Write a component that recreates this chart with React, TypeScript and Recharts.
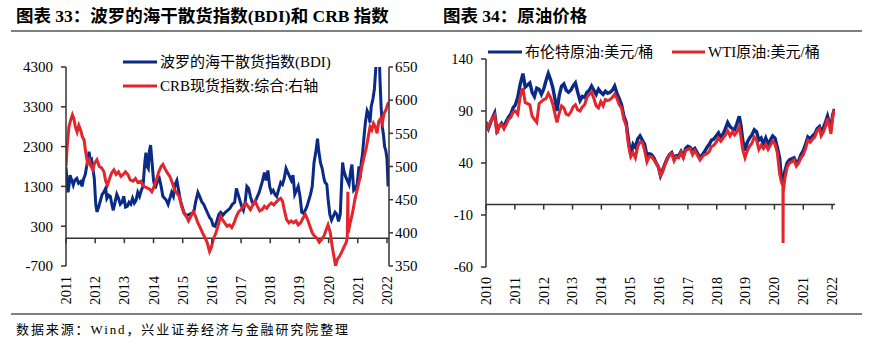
import React from 'react';
import { LineChart, Line, XAxis, YAxis, ReferenceLine } from 'recharts';

// ---------- Left chart: BDI & CRB ----------
const bdiT = [
  2011.00, 2011.03, 2011.07, 2011.10, 2011.14, 2011.20, 2011.25, 2011.30, 2011.37, 2011.43,
  2011.50, 2011.55, 2011.60, 2011.66, 2011.72, 2011.79, 2011.84, 2011.88, 2011.93, 2011.97,
  2012.02, 2012.06, 2012.12, 2012.18, 2012.24, 2012.30, 2012.36, 2012.40, 2012.46, 2012.52,
  2012.58, 2012.62, 2012.68, 2012.74, 2012.80, 2012.86, 2012.92, 2012.98, 2013.04, 2013.10,
  2013.16, 2013.22, 2013.28, 2013.34, 2013.40, 2013.46, 2013.52, 2013.58, 2013.64, 2013.70,
  2013.74, 2013.78, 2013.82, 2013.86, 2013.90, 2013.95, 2014.00, 2014.06, 2014.12, 2014.20,
  2014.26, 2014.32, 2014.38, 2014.44, 2014.50, 2014.56, 2014.62, 2014.68, 2014.74, 2014.80,
  2014.86, 2014.92, 2014.98, 2015.04, 2015.10, 2015.16, 2015.22, 2015.30, 2015.38, 2015.44,
  2015.52, 2015.58, 2015.66, 2015.72, 2015.78, 2015.84, 2015.92, 2015.98, 2016.04, 2016.10,
  2016.16, 2016.24, 2016.30, 2016.38, 2016.46, 2016.54, 2016.62, 2016.70, 2016.78, 2016.84,
  2016.90, 2016.96, 2017.02, 2017.08, 2017.14, 2017.20, 2017.26, 2017.32, 2017.38, 2017.44,
  2017.50, 2017.56, 2017.62, 2017.68, 2017.74, 2017.80, 2017.86, 2017.92, 2017.98, 2018.04,
  2018.10, 2018.16, 2018.22, 2018.30, 2018.36, 2018.42, 2018.48, 2018.54, 2018.60, 2018.66,
  2018.72, 2018.78, 2018.84, 2018.90, 2018.96, 2019.02, 2019.08, 2019.14, 2019.20, 2019.26,
  2019.32, 2019.38, 2019.44, 2019.50, 2019.56, 2019.62, 2019.66, 2019.72, 2019.78, 2019.84,
  2019.88, 2019.94, 2019.98, 2020.04, 2020.10, 2020.16, 2020.22, 2020.28, 2020.34, 2020.40,
  2020.44, 2020.48, 2020.52, 2020.58, 2020.64, 2020.70, 2020.76, 2020.80, 2020.86, 2020.92,
  2020.98, 2021.04, 2021.08, 2021.12, 2021.16, 2021.22, 2021.26, 2021.32, 2021.38, 2021.42,
  2021.46, 2021.52, 2021.57, 2021.62, 2021.66, 2021.72, 2021.76, 2021.80, 2021.84, 2021.88,
  2021.92, 2021.96, 2022.00, 2022.04,
];
const bdiV = [
  1780, 1500, 1150, 1300, 1580, 1450, 1330, 1450, 1500, 1380,
  1420, 1300, 1480, 1600, 1850, 2170, 1900, 1950, 1700, 1500,
  850, 660, 780, 950, 1100, 1160, 1250, 1000, 1080, 1050,
  820, 700, 900, 1100, 1000, 850, 900, 1050, 780, 800,
  900, 850, 1000, 880, 950, 1150, 1050, 1200, 1300, 1900,
  2150, 1800, 1750, 2200, 2340, 1900, 1450, 1250, 1400, 1500,
  1300, 1050, 1000, 950, 850, 1000, 1150, 1050, 1350, 1450,
  1200, 950, 800, 650, 580, 570, 600, 620, 650, 900,
  1150, 1050, 900, 850, 750, 650, 520, 470, 320, 300,
  400, 600, 650, 580, 650, 700, 750, 850, 900, 1250,
  1100, 950, 800, 700, 900, 1300, 1250, 1050, 900, 870,
  950, 1050, 1150, 1300, 1450, 1650, 1450, 1700, 1300, 1150,
  1200, 1100, 1050, 1250, 1400, 1350, 1500, 1750, 1650, 1550,
  1450, 1580, 1100, 1200, 1300, 1050, 650, 620, 700, 800,
  950, 1100, 1300, 1900, 2150, 2500, 2200, 1900, 1750, 1500,
  1400, 1350, 1000, 600, 450, 550, 650, 600, 420, 600,
  1300, 1900, 1700, 1550, 1450, 1350, 1700, 1850, 1200, 1250,
  1350, 1800, 1500, 1900, 2100, 2600, 2900, 3200, 3100, 2900,
  3300, 3500, 3750, 4300, 4700, 5200, 4000, 3300, 2800, 2600,
  2300, 2200, 2000, 1300,
];
const crbT = [
  2011.00, 2011.04, 2011.10, 2011.16, 2011.22, 2011.27, 2011.32, 2011.38, 2011.44, 2011.50,
  2011.56, 2011.62, 2011.68, 2011.74, 2011.80, 2011.86, 2011.92, 2011.98, 2012.06, 2012.14,
  2012.22, 2012.30, 2012.36, 2012.42, 2012.48, 2012.56, 2012.64, 2012.72, 2012.80, 2012.88,
  2012.96, 2013.04, 2013.12, 2013.20, 2013.30, 2013.38, 2013.46, 2013.56, 2013.66, 2013.76,
  2013.86, 2013.94, 2014.02, 2014.10, 2014.18, 2014.26, 2014.32, 2014.40, 2014.48, 2014.56,
  2014.64, 2014.72, 2014.80, 2014.88, 2014.96, 2015.04, 2015.12, 2015.20, 2015.28, 2015.36,
  2015.44, 2015.52, 2015.60, 2015.68, 2015.76, 2015.84, 2015.92, 2015.98, 2016.06, 2016.14,
  2016.22, 2016.30, 2016.36, 2016.44, 2016.52, 2016.60, 2016.68, 2016.76, 2016.84, 2016.92,
  2017.00, 2017.08, 2017.16, 2017.24, 2017.32, 2017.40, 2017.48, 2017.56, 2017.64, 2017.72,
  2017.80, 2017.88, 2017.96, 2018.04, 2018.12, 2018.20, 2018.28, 2018.36, 2018.42, 2018.48,
  2018.56, 2018.64, 2018.72, 2018.80, 2018.88, 2018.96, 2019.04, 2019.12, 2019.20, 2019.28,
  2019.36, 2019.44, 2019.52, 2019.60, 2019.68, 2019.76, 2019.84, 2019.92, 2019.98, 2020.06,
  2020.12, 2020.18, 2020.24, 2020.30, 2020.38, 2020.46, 2020.54, 2020.60, 2020.64, 2020.66,
  2020.67, 2020.74, 2020.82, 2020.90, 2020.98, 2021.06, 2021.14, 2021.22, 2021.30, 2021.36,
  2021.42, 2021.48, 2021.54, 2021.60, 2021.66, 2021.72, 2021.78, 2021.84, 2021.90, 2021.96,
  2022.02, 2022.06,
];
const crbV = [
  500, 530, 560, 570, 578, 572, 560, 552, 562, 555,
  545, 540, 520, 505, 510, 500, 495, 505, 510, 500,
  498, 492, 478, 472, 480, 490, 495, 488, 492, 485,
  488, 492, 488, 480, 478, 482, 476, 478, 470, 468,
  466, 462, 470, 480, 492, 500, 503, 496, 490, 485,
  476, 465, 460, 455, 440, 430, 425, 418, 425, 432,
  425, 415, 408, 400, 393, 385, 372, 378, 392, 400,
  412, 425, 420, 415, 410, 412, 408, 415, 425, 432,
  435, 440, 445, 440, 435, 442, 448, 440, 433, 435,
  440, 437, 442, 445, 442, 446, 450, 452, 448, 435,
  420, 415, 418, 415, 418, 412, 415, 422, 428, 420,
  410, 400, 395, 392, 386, 390, 395, 405, 412, 400,
  380, 365, 350, 360, 365, 372, 380, 385, 393, 462,
  400, 415, 430, 450, 465, 480, 500, 515, 530, 545,
  560, 555, 565, 560, 550, 568, 572, 565, 580, 585,
  593, 597,
];
const leftYears = [2011, 2012, 2013, 2014, 2015, 2016, 2017, 2018, 2019, 2020, 2021, 2022];
const bdiTicks = [-700, 300, 1300, 2300, 3300, 4300];
const crbTicks = [350, 400, 450, 500, 550, 600, 650];

// ---------- Right chart: crude oil ----------
const oilT = [
  2010.00, 2010.08, 2010.16, 2010.25, 2010.30, 2010.38, 2010.46, 2010.54, 2010.62, 2010.70,
  2010.78, 2010.86, 2010.94, 2011.02, 2011.10, 2011.18, 2011.28, 2011.36, 2011.44, 2011.52,
  2011.60, 2011.68, 2011.76, 2011.84, 2011.92, 2012.00, 2012.08, 2012.16, 2012.24, 2012.32,
  2012.40, 2012.46, 2012.54, 2012.62, 2012.70, 2012.78, 2012.86, 2012.94, 2013.02, 2013.10,
  2013.18, 2013.26, 2013.34, 2013.42, 2013.50, 2013.58, 2013.66, 2013.74, 2013.82, 2013.90,
  2013.98, 2014.06, 2014.14, 2014.22, 2014.30, 2014.38, 2014.46, 2014.54, 2014.62, 2014.70,
  2014.78, 2014.86, 2014.94, 2015.02, 2015.10, 2015.18, 2015.26, 2015.34, 2015.42, 2015.50,
  2015.58, 2015.66, 2015.74, 2015.82, 2015.90, 2015.98, 2016.05, 2016.12, 2016.20, 2016.28,
  2016.36, 2016.44, 2016.52, 2016.60, 2016.68, 2016.76, 2016.84, 2016.92, 2017.00, 2017.08,
  2017.16, 2017.24, 2017.32, 2017.42, 2017.50, 2017.58, 2017.66, 2017.74, 2017.82, 2017.90,
  2017.98, 2018.06, 2018.14, 2018.22, 2018.30, 2018.38, 2018.46, 2018.54, 2018.62, 2018.70,
  2018.78, 2018.84, 2018.90, 2018.98, 2019.06, 2019.14, 2019.22, 2019.30, 2019.38, 2019.46,
  2019.54, 2019.62, 2019.70, 2019.78, 2019.86, 2019.94, 2020.02, 2020.10, 2020.18, 2020.24,
  2020.295, 2020.30, 2020.305, 2020.36, 2020.44, 2020.52, 2020.60, 2020.68, 2020.76, 2020.84,
  2020.92, 2021.00, 2021.08, 2021.16, 2021.24, 2021.32, 2021.40, 2021.48, 2021.56, 2021.62,
  2021.70, 2021.78, 2021.84, 2021.90, 2021.96, 2022.02, 2022.08,
];
const brentV = [
  78, 73, 79, 85, 88, 71, 75, 78, 74, 80,
  84, 87, 93, 96, 103, 115, 126, 113, 115, 117,
  108, 104, 112, 111, 106, 111, 119, 126, 120, 112,
  100, 90, 105, 114, 116, 110, 108, 110, 114, 117,
  108, 100, 104, 103, 108, 110, 114, 110, 106, 111,
  108, 106, 109, 107, 108, 110, 114, 107, 102, 96,
  85, 79, 62, 48, 58, 55, 63, 66, 62, 58,
  47, 49, 48, 45, 40, 36, 28, 33, 39, 44,
  48, 50, 44, 47, 47, 51, 46, 54, 56, 55,
  52, 54, 50, 45, 48, 51, 55, 58, 62, 63,
  66, 69, 64, 68, 73, 79, 75, 73, 72, 78,
  85, 76, 62, 52, 60, 64, 67, 72, 70, 62,
  64, 58, 64, 58, 62, 66, 64, 55, 45, 25,
  22, 20, 22, 32, 40, 43, 44, 45, 40, 42,
  48, 52, 58, 65, 63, 66, 68, 73, 75, 70,
  74, 80, 85, 79, 74, 86, 92,
];
const wtiV = [
  80, 74, 80, 84, 86, 68, 76, 77, 73, 77,
  82, 84, 89, 90, 87, 103, 112, 98, 97, 96,
  85, 82, 79, 97, 99, 101, 102, 107, 103, 96,
  86, 79, 88, 95, 93, 87, 86, 89, 94, 96,
  91, 90, 94, 96, 103, 106, 108, 102, 95, 93,
  99, 95, 101, 100, 101, 103, 106, 102, 96, 93,
  82, 76, 57, 46, 50, 45, 56, 60, 60, 52,
  41, 46, 46, 43, 40, 36, 28, 31, 38, 43,
  48, 49, 42, 46, 45, 50, 45, 52, 53, 54,
  48, 52, 48, 43, 46, 48, 49, 51, 56, 57,
  60, 64, 61, 64, 67, 71, 66, 70, 67, 70,
  75, 65, 53, 45, 52, 56, 59, 65, 62, 53,
  57, 54, 58, 53, 57, 61, 58, 50, 30, 22,
  18, -37, 12, 25, 36, 40, 41, 43, 37, 40,
  45, 48, 54, 62, 60, 63, 65, 71, 73, 66,
  70, 76, 83, 76, 68, 84, 91,
];
const rightYears = [2010, 2011, 2012, 2013, 2014, 2015, 2016, 2017, 2018, 2019, 2020, 2021, 2022];
const oilTicks = [-60, -10, 40, 90, 140];

const bdiData = bdiT.map((t, i) => ({ t, v: bdiV[i] }));
const crbData = crbT.map((t, i) => ({ t, v: crbV[i] }));
const oilData = oilT.map((t, i) => ({ t, brent: brentV[i], wti: wtiV[i] }));

const BLUE = '#0b2a86';
const RED = '#e3262b';
const AXIS = '#333333';
const SERIF = "'Liberation Serif','Times New Roman','Noto Sans CJK SC',serif";

const LEFT_DOMAIN: [number, number] = [-700, 4300];
const LEFT_PLOT_H = 199;
const RIGHT_DOMAIN: [number, number] = [-60, 140];
const RIGHT_PLOT_H = 208;

const makeXTick = (domain: [number, number], plotH: number, gap: number, fontSize: number) => (props: any) => {
  const { x, y, payload } = props;
  const zeroOffset = (plotH * (0 - domain[0])) / (domain[1] - domain[0]);
  const y0 = y - zeroOffset;
  const ly = y + gap;
  return (
    <g>
      <line x1={x} x2={x} y1={y0} y2={y0 + 5} stroke={AXIS} strokeWidth={1.5} />
      <text
        x={x}
        y={ly}
        transform={`rotate(-90, ${x}, ${ly})`}
        textAnchor="end"
        dy="0.35em"
        fontSize={fontSize}
        fill="#000"
        fontFamily={SERIF}
      >
        {payload.value}
      </text>
    </g>
  );
};

const leftTick = makeXTick(LEFT_DOMAIN, LEFT_PLOT_H, 10, 14.5);
const rightTick = makeXTick(RIGHT_DOMAIN, RIGHT_PLOT_H, 10, 14);

export default function App() {
  return (
    <div style={{ position: 'absolute', left: 0, top: 0, width: 879, height: 346, background: '#fff', overflow: 'hidden' }}>
      <svg width={879} height={346} style={{ position: 'absolute', left: 0, top: 0 }}>
        <text x={16} y={16} dominantBaseline="central" fontSize={17.5} fontWeight="bold" fontFamily={SERIF} fill="#000">
          图表 33：波罗的海干散货指数(BDI)和 CRB 指数
        </text>
        <text x={443} y={16} dominantBaseline="central" fontSize={17.5} fontWeight="bold" fontFamily={SERIF} fill="#000">
          图表 34：原油价格
        </text>
        <line x1={11} x2={862} y1={31} y2={31} stroke="#000" strokeWidth={1.2} />
        <line x1={11} x2={862} y1={314} y2={314} stroke="#000" strokeWidth={1.2} />
        <text x={16} y={329} dominantBaseline="central" fontSize={13} letterSpacing={1.9} fontFamily={SERIF} fill="#000">
          数据来源：Wind，兴业证券经济与金融研究院整理
        </text>
        {/* left legend */}
        <line x1={123} x2={157} y1={62} y2={62} stroke={BLUE} strokeWidth={3} />
        <text x={160} y={62} dominantBaseline="central" fontSize={15} fontFamily={SERIF} fill="#000">
          波罗的海干散货指数(BDI)
        </text>
        <line x1={123} x2={157} y1={86} y2={86} stroke={RED} strokeWidth={3} />
        <text x={160} y={86} dominantBaseline="central" fontSize={15} fontFamily={SERIF} fill="#000">
          CRB现货指数:综合:右轴
        </text>
        {/* right legend */}
        <line x1={488} x2={522} y1={52} y2={52} stroke={BLUE} strokeWidth={3} />
        <text x={525} y={52} dominantBaseline="central" fontSize={15} fontFamily={SERIF} fill="#000">
          布伦特原油:美元/桶
        </text>
        <line x1={672} x2={705} y1={52} y2={52} stroke={RED} strokeWidth={3} />
        <text x={708} y={52} dominantBaseline="central" fontSize={15} fontFamily={SERIF} fill="#000">
          WTI原油:美元/桶
        </text>
      </svg>

      <div style={{ position: 'absolute', left: 0, top: 0 }}>
        <LineChart width={440} height={346} margin={{ top: 67, bottom: 50, left: 16, right: 6 }} style={{ fontFamily: SERIF }}>
          <XAxis
            dataKey="t"
            type="number"
            domain={[2011, 2022.07]}
            ticks={leftYears}
            allowDataOverflow
            height={30}
            axisLine={false}
            tickLine={false}
            tickSize={0}
            tickMargin={0}
            tick={leftTick}
            interval={0}
          />
          <YAxis
            yAxisId="left"
            orientation="left"
            width={50}
            domain={LEFT_DOMAIN}
            ticks={bdiTicks}
            allowDataOverflow
            interval={0}
            axisLine={{ stroke: AXIS, strokeWidth: 1.5 }}
            tickLine={{ stroke: AXIS, strokeWidth: 1.5 }}
            tickSize={5}
            tickMargin={8}
            tick={{ fontSize: 15, fill: '#000', fontFamily: SERIF }}
          />
          <YAxis
            yAxisId="right"
            orientation="right"
            width={45}
            domain={[350, 650]}
            ticks={crbTicks}
            allowDataOverflow
            interval={0}
            axisLine={{ stroke: AXIS, strokeWidth: 1.5 }}
            tickLine={{ stroke: AXIS, strokeWidth: 1.5 }}
            tickSize={4}
            tickMargin={2}
            tick={{ fontSize: 15, fill: '#000', fontFamily: SERIF }}
          />
          <ReferenceLine yAxisId="left" y={0} stroke={AXIS} strokeWidth={1.5} />
          <Line yAxisId="left" data={bdiData} dataKey="v" stroke={BLUE} strokeWidth={3} dot={false} isAnimationActive={false} />
          <Line yAxisId="right" data={crbData} dataKey="v" stroke={RED} strokeWidth={3} dot={false} isAnimationActive={false} />
        </LineChart>
      </div>

      <div style={{ position: 'absolute', left: 440, top: 0 }}>
        <LineChart width={439} height={346} data={oilData} margin={{ top: 59, bottom: 49, left: 6, right: 44 }} style={{ fontFamily: SERIF }}>
          <XAxis
            dataKey="t"
            type="number"
            domain={[2010, 2022.1]}
            ticks={rightYears}
            allowDataOverflow
            height={30}
            axisLine={false}
            tickLine={false}
            tickSize={0}
            tickMargin={0}
            tick={rightTick}
            interval={0}
          />
          <YAxis
            width={40}
            domain={RIGHT_DOMAIN}
            ticks={oilTicks}
            allowDataOverflow
            interval={0}
            axisLine={{ stroke: AXIS, strokeWidth: 1.5 }}
            tickLine={{ stroke: AXIS, strokeWidth: 1.5 }}
            tickSize={5}
            tickMargin={8}
            tick={{ fontSize: 14.5, fill: '#000', fontFamily: SERIF }}
          />
          <ReferenceLine y={0} stroke={AXIS} strokeWidth={1.5} />
          <Line dataKey="brent" stroke={BLUE} strokeWidth={3.4} dot={false} isAnimationActive={false} />
          <Line dataKey="wti" stroke={RED} strokeWidth={3} dot={false} isAnimationActive={false} />
        </LineChart>
      </div>
    </div>
  );
}
